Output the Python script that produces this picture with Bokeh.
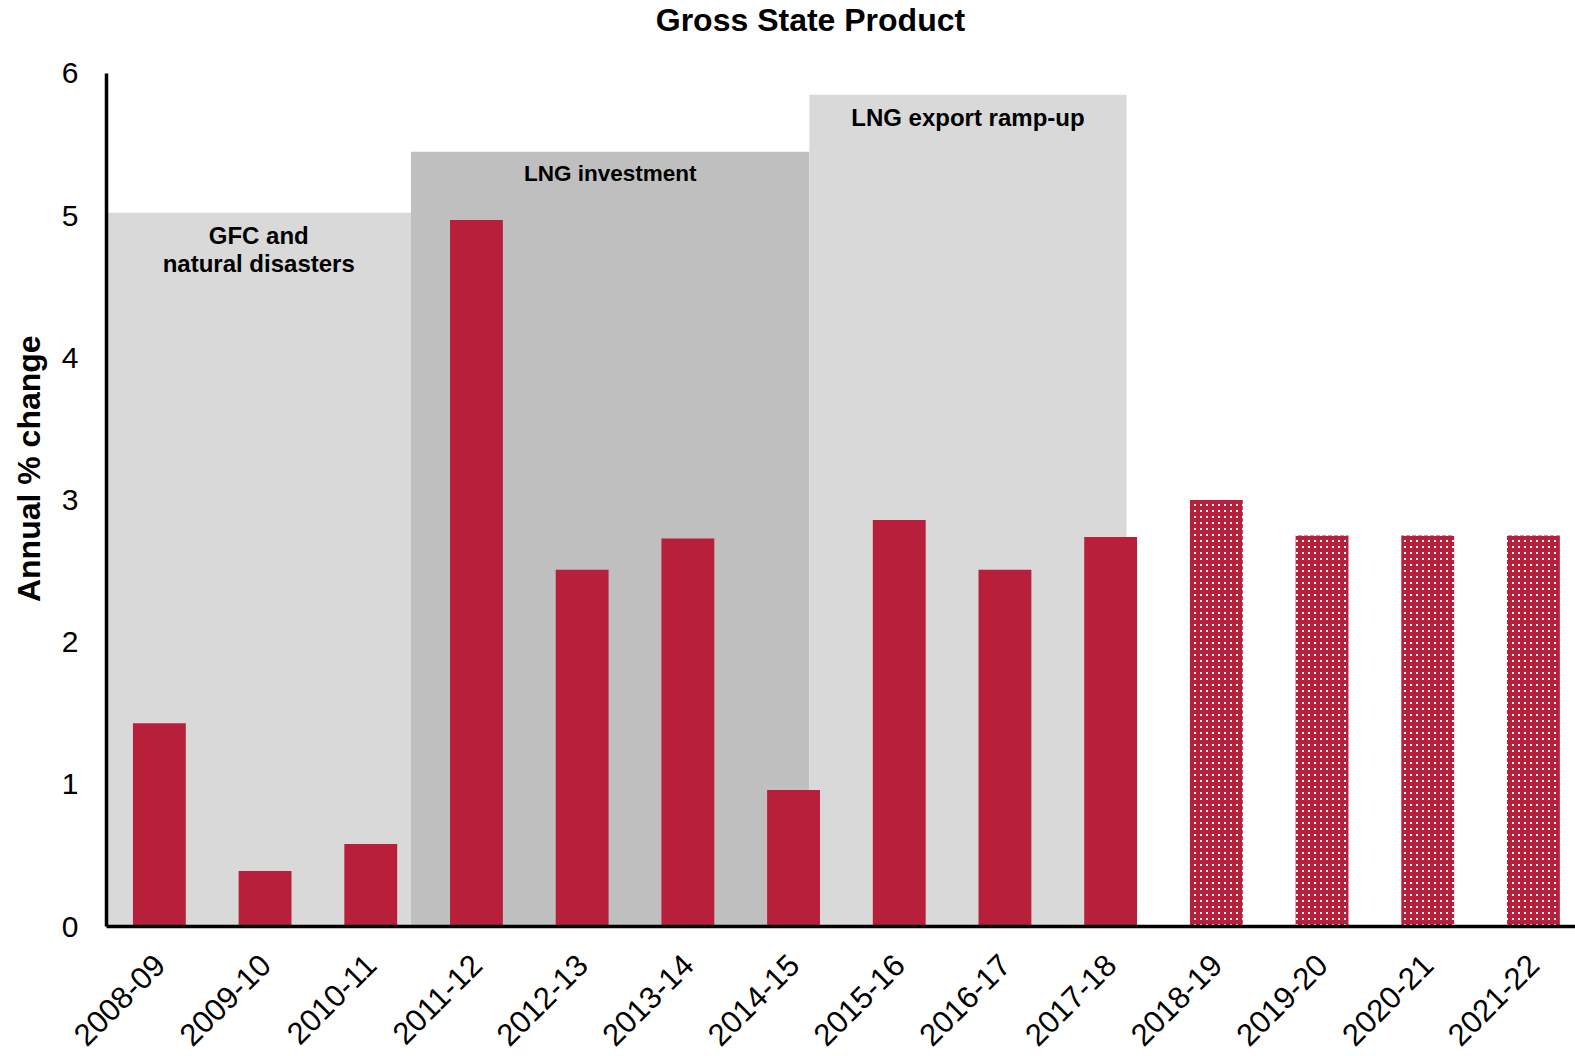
from bokeh.plotting import figure
from bokeh.models import Range1d, FixedTicker, ColumnDataSource, Label
from bokeh.core.properties import value
from bokeh.embed import file_html
from bokeh.resources import INLINE
import math

# ---- data ----
years = ["2008-09", "2009-10", "2010-11", "2011-12", "2012-13", "2013-14", "2014-15",
         "2015-16", "2016-17", "2017-18", "2018-19", "2019-20", "2020-21", "2021-22"]
growth = [1.43, 0.39, 0.58, 4.97, 2.51, 2.73, 0.96, 2.86, 2.51, 2.74, 3.00, 2.75, 2.75, 2.75]
forecast = [False] * 10 + [True] * 4

period_labels = ["GFC and\nnatural disasters", "LNG investment", "LNG export ramp-up"]
period_start = [0.0, 2.88, 6.65]      # in category-index units
period_end = [2.88, 6.65, 9.65]
period_top = [5.02, 5.45, 5.85]
period_colors = ["#D9D9D9", "#BFBFBF", "#D9D9D9"]
period_font_sizes = ["24px", "22.5px", "24px"]

y_ticks = [0, 1, 2, 3, 4, 5, 6]
title_text = "Gross State Product"
y_label_text = "Annual % change"

RED = "#B71F3A"
FONT = "Liberation Sans"

idx = [i + 0.5 for i in range(len(years))]

# frame covers the whole canvas; axes are pinned at 0 inside it
p = figure(width=1575, height=1056, output_backend="svg", toolbar_location=None,
           x_range=Range1d(-1.003, 13.898), y_range=Range1d(-0.914, 6.513),
           min_border_left=0, min_border_right=0, min_border_top=0, min_border_bottom=0)
p.outline_line_color = None
p.xgrid.visible = False
p.ygrid.visible = False

# shaded periods
psrc = ColumnDataSource(dict(left=period_start, right=period_end, top=period_top,
                             bottom=[0] * 3, color=period_colors,
                             cx=[(a + b) / 2 for a, b in zip(period_start, period_end)],
                             label=period_labels, fs=period_font_sizes))
p.quad(left="left", right="right", top="top", bottom="bottom", fill_color="color",
       line_color=None, source=psrc)
p.text(x="cx", y="top", text="label", source=psrc, text_align="center",
       text_baseline="top", y_offset=9, text_font=value(FONT), text_font_size="fs",
       text_font_style="bold", text_color="black", text_line_height=1.06)

# bars
act = ColumnDataSource(dict(x=[x for x, f in zip(idx, forecast) if not f],
                            top=[v for v, f in zip(growth, forecast) if not f]))
fc = ColumnDataSource(dict(x=[x for x, f in zip(idx, forecast) if f],
                           top=[v for v, f in zip(growth, forecast) if f]))
p.vbar(x="x", top="top", width=0.5, bottom=0, fill_color=RED, line_color=None, source=act)
p.vbar(x="x", top="top", width=0.5, bottom=0, fill_color="white", line_color=None,
       hatch_pattern="+", hatch_color=RED, hatch_scale=6, hatch_weight=4, source=fc)

# axes
p.xaxis.fixed_location = 0
p.yaxis.fixed_location = 0
p.xaxis.bounds = (0, 13.898)
p.yaxis.bounds = (0, 6)
p.xaxis.ticker = FixedTicker(ticks=idx)
p.xaxis.major_label_overrides = {x: y for x, y in zip(idx, years)}
p.xaxis.major_label_orientation = math.pi / 4
p.yaxis.ticker = FixedTicker(ticks=y_ticks)
for ax in (p.xaxis[0], p.yaxis[0]):
    ax.axis_line_width = 3.5
    ax.axis_line_color = "black"
    ax.major_tick_line_color = None
    ax.minor_tick_line_color = None
    ax.major_label_text_font = FONT
    ax.major_label_text_color = "black"
p.xaxis.major_label_text_font_size = "31px"
p.yaxis.major_label_text_font_size = "30px"
p.xaxis.major_label_standoff = 27
p.yaxis.major_label_standoff = 22

# y axis title
p.add_layout(Label(x=-0.738, y=3.22, text=y_label_text, angle=90, angle_units="deg",
                   text_align="center", text_baseline="middle", text_font=FONT,
                   text_font_size="32px", text_font_style="bold", text_color="black"))

# chart title
p.add_layout(Label(x=6.66, y=6.373, text=title_text, text_align="center",
                   text_baseline="middle", text_font=FONT, text_font_size="32px",
                   text_font_style="bold", text_color="black"))

open("out.html", "w").write(file_html(p, INLINE))
